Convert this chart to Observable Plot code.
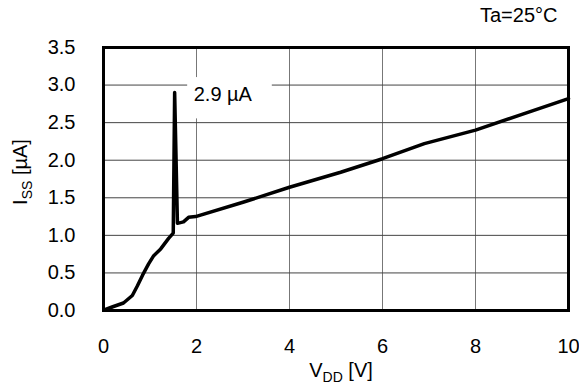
<!DOCTYPE html>
<html><head><meta charset="utf-8">
<script src="https://cdn.jsdelivr.net/npm/d3@7"></script>
<script src="https://cdn.jsdelivr.net/npm/@observablehq/plot@0.6"></script>
<style>body{margin:0;background:#fff} svg{font-family:"Liberation Sans",Arial,sans-serif}</style>
</head><body><div id="chart"></div>
<script>
// Data (V_DD in volts, I_SS in µA)
const vdd = [0.03, 0.2, 0.43, 0.62, 0.73, 0.84, 0.97, 1.08, 1.23, 1.40, 1.50, 1.53, 1.59, 1.72, 1.83, 1.98, 3.0, 4.0, 5.1, 6.0, 6.9, 8.0, 9.0, 10.0];
const iss = [0.01, 0.05, 0.10, 0.20, 0.33, 0.47, 0.62, 0.73, 0.82, 0.96, 1.03, 2.90, 1.16, 1.18, 1.24, 1.25, 1.44, 1.64, 1.84, 2.02, 2.22, 2.40, 2.61, 2.82];
const xTicks = [0, 2, 4, 6, 8, 10];
const yTicks = [0, 0.5, 1.0, 1.5, 2.0, 2.5, 3.0, 3.5];
const peakLabel = "2.9 µA";
const peakLabelPos = [1.94, 2.87];
const peakBoxX = [1.81, 3.63];
const peakBoxY = [2.55, 3.10];
const condition = "Ta=25°C";
const xLabel = ["V", "DD", " [V]"];
const yLabel = ["I", "SS", " [µA]"];

const points = vdd.map((v, i) => ({vdd: v, iss: iss[i]}));
const FS = 20;

const chart = Plot.plot({
  width: 579, height: 391,
  marginLeft: 103, marginRight: 11, marginTop: 47, marginBottom: 81,
  style: {fontFamily: '"Liberation Sans", Arial, sans-serif', fontSize: FS + "px", color: "#000", background: "#fff"},
  x: {domain: [0, 10]},
  y: {domain: [0, 3.5]},
  marks: [
    Plot.gridX(xTicks.slice(1, -1), {stroke: "#777", strokeOpacity: 1, strokeWidth: 1}),
    Plot.gridY(yTicks.slice(1, -1), {stroke: "#444", strokeOpacity: 1, strokeWidth: 1}),
    Plot.rect([{}], {x1: () => peakBoxX[0], x2: () => peakBoxX[1], y1: () => peakBoxY[0], y2: () => peakBoxY[1], fill: "#fff"}),
    Plot.axisX(xTicks, {tickSize: 0, tickPadding: 28, label: null, fontSize: FS, tickFormat: d => String(d)}),
    Plot.axisY(yTicks, {tickSize: 0, tickPadding: 28, label: null, fontSize: FS, tickFormat: d => d.toFixed(1)}),
    Plot.line(points, {x: "vdd", y: "iss", stroke: "#000", strokeWidth: 3.5, strokeLinejoin: "round", strokeLinecap: "round"}),
    Plot.text([peakLabel], {x: () => peakLabelPos[0], y: () => peakLabelPos[1], text: d => d, textAnchor: "start", fontSize: FS, fill: "#000"}),
    Plot.frame({stroke: "#000", strokeWidth: 3}),
    Plot.text([condition], {frameAnchor: "top-right", lineAnchor: "middle", dy: -32, dx: -11, textAnchor: "end", text: d => d, fontSize: FS, fill: "#000"})
  ]
});

const svg = d3.select(chart);
function subLabel(g, parts) {
  const t = g.append("text").attr("font-size", FS).attr("fill", "#000");
  t.append("tspan").text(parts[0]);
  t.append("tspan").attr("font-size", FS * 0.7).attr("dy", 5).text(parts[1]);
  t.append("tspan").attr("dy", -5).text(parts[2]);
  return t;
}
subLabel(svg.append("g").attr("transform", "translate(341,377)"), xLabel).attr("text-anchor", "middle");
subLabel(svg.append("g").attr("transform", "translate(27,172) rotate(-90)"), yLabel).attr("text-anchor", "middle");

document.getElementById("chart").append(chart);
</script>
</body></html>
